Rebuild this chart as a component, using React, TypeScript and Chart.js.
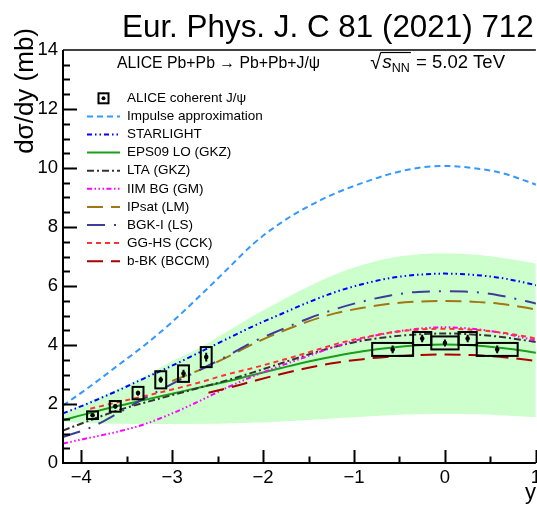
import React, { useEffect, useRef } from 'react';
import { Chart, registerables } from 'chart.js';

Chart.register(...registerables);

const W = 545;
const H = 505;
const FONT = '"Liberation Sans", Arial, Helvetica, sans-serif';

// Rapidity grid shared by most model curves
const rapidity = [-4.2, -3.9, -3.6, -3.3, -3.0, -2.7, -2.4, -2.1, -1.8, -1.5, -1.2, -0.9, -0.6, -0.3, 0, 0.3, 0.6, 0.9, 1.2];

const impulse = [1.95, 2.6, 3.3, 4.0, 4.78, 5.65, 6.55, 7.45, 8.15, 8.7, 9.15, 9.5, 9.8, 10.0, 10.07, 10.0, 9.85, 9.55, 9.2];
const starlight = [1.68, 2.05, 2.45, 2.88, 3.3, 3.75, 4.2, 4.65, 5.05, 5.45, 5.8, 6.07, 6.27, 6.38, 6.42, 6.38, 6.28, 6.1, 5.88];
const eps09 = [1.45, 1.7, 1.93, 2.14, 2.35, 2.56, 2.76, 2.99, 3.22, 3.44, 3.63, 3.79, 3.91, 3.99, 4.02, 3.99, 3.91, 3.79, 3.63];
const eps09High = [1.65, 2.1, 2.5, 2.95, 3.45, 3.9, 4.45, 5.0, 5.5, 5.98, 6.4, 6.72, 6.95, 7.07, 7.1, 7.07, 6.97, 6.82, 6.6];
const eps09Low = [1.4, 1.35, 1.33, 1.32, 1.32, 1.33, 1.34, 1.37, 1.41, 1.46, 1.52, 1.57, 1.62, 1.65, 1.66, 1.65, 1.62, 1.57, 1.53];
const lta = [1.1, 1.45, 1.78, 2.05, 2.3, 2.55, 2.8, 3.08, 3.38, 3.68, 3.95, 4.15, 4.28, 4.36, 4.39, 4.36, 4.28, 4.15, 4.0];
const iimBG = [0.66, 0.86, 1.06, 1.32, 1.68, 2.1, 2.55, 2.95, 3.3, 3.63, 3.95, 4.22, 4.42, 4.55, 4.6, 4.55, 4.42, 4.22, 4.0];
const bgkI = [0.88, 1.2, 1.68, 2.2, 2.68, 3.15, 3.62, 4.12, 4.52, 4.9, 5.22, 5.48, 5.68, 5.8, 5.82, 5.8, 5.68, 5.48, 5.25];

const ipsatY = [-3.0, -2.7, -2.4, -2.1, -1.8, -1.5, -1.2, -0.9, -0.6, -0.3, 0, 0.3, 0.6, 0.9, 1.2];
const ipsat = [2.78, 3.15, 3.58, 4.05, 4.45, 4.8, 5.08, 5.26, 5.4, 5.47, 5.49, 5.47, 5.4, 5.26, 5.08];

const gghsY = [-3.9, -3.6, -3.3, -3.0, -2.7, -2.4, -2.1, -1.8, -1.5, -1.2, -0.9, -0.6, -0.3, 0, 0.3, 0.6, 0.9, 1.2];
const gghs = [1.84, 2.06, 2.27, 2.49, 2.73, 3.0, 3.23, 3.48, 3.75, 4.03, 4.25, 4.42, 4.52, 4.55, 4.52, 4.43, 4.28, 4.08];

const bbkY = [-2.6, -2.4, -2.1, -1.8, -1.5, -1.2, -0.9, -0.6, -0.3, 0, 0.3, 0.6, 0.9, 1.2];
const bbk = [2.38, 2.53, 2.78, 3.02, 3.23, 3.4, 3.52, 3.61, 3.66, 3.68, 3.66, 3.6, 3.5, 3.36];

// ALICE coherent J/psi, forward rapidity
const forwardY = [-3.875, -3.625, -3.375, -3.125, -2.875, -2.625];
const forwardXsec = [1.62, 1.92, 2.37, 2.82, 3.03, 3.59];
const forwardStat = [0.06, 0.07, 0.08, 0.1, 0.13, 0.15];
const forwardSyst = [0.13, 0.18, 0.21, 0.29, 0.28, 0.34];
const forwardHalfWidth = 0.06;

// ALICE coherent J/psi, central rapidity bins
const centralLo = [-0.8, -0.35, -0.15, 0.15, 0.35];
const centralHi = [-0.35, -0.15, 0.15, 0.35, 0.8];
const centralXsec = [3.85, 4.22, 4.07, 4.22, 3.85];
const centralStat = [0.13, 0.13, 0.12, 0.13, 0.13];
const centralSyst = [0.22, 0.22, 0.22, 0.22, 0.22];

const xTicks = [-4, -3, -2, -1, 0, 1];
const yTicks = [0, 2, 4, 6, 8, 10, 12, 14];

type Model = { label: string; x: number[]; y: number[]; color: string; dash: number[] };

const models: Model[] = [
  { label: 'Impulse approximation', x: rapidity, y: impulse, color: '#3399ff', dash: [6, 4] },
  { label: 'STARLIGHT', x: rapidity, y: starlight, color: '#0000ff', dash: [5, 3, 1.5, 3, 1.5, 3] },
  { label: 'EPS09 LO (GKZ)', x: rapidity, y: eps09, color: '#1b9e1b', dash: [] },
  { label: 'LTA (GKZ)', x: rapidity, y: lta, color: '#333333', dash: [7, 3, 2, 3] },
  { label: 'IIM BG (GM)', x: rapidity, y: iimBG, color: '#ff00ff', dash: [5, 2.5, 1.5, 2.5, 1.5, 2.5, 1.5, 2.5] },
  { label: 'IPsat (LM)', x: ipsatY, y: ipsat, color: '#a37514', dash: [16, 8] },
  { label: 'BGK-I (LS)', x: rapidity, y: bgkI, color: '#3d3d99', dash: [18, 9, 2, 9] },
  { label: 'GG-HS (CCK)', x: gghsY, y: gghs, color: '#ff3333', dash: [5, 4] },
  { label: 'b-BK (BCCM)', x: bbkY, y: bbk, color: '#aa0000', dash: [16, 8] },
];

const pts = (xs: number[], ys: number[]) => xs.map((x, i) => ({ x, y: ys[i] }));
const fmtTick = (v: number) => (v < 0 ? '\u2212' + Math.abs(v) : String(v));

const decorations = {
  id: 'decorations',
  afterDatasetsDraw(chart: any) {
    const { ctx, chartArea: a, scales } = chart;
    const xs = scales.x;
    const ys = scales.y;
    ctx.save();
    ctx.beginPath();
    ctx.rect(a.left, a.top, a.right - a.left, a.bottom - a.top);
    ctx.clip();
    ctx.strokeStyle = '#000';
    ctx.fillStyle = '#000';
    ctx.lineWidth = 2;
    ctx.setLineDash([]);
    const drawPoint = (x: number, lo: number, hi: number, v: number, stat: number, syst: number) => {
      const x0 = xs.getPixelForValue(lo);
      const x1 = xs.getPixelForValue(hi);
      const yT = ys.getPixelForValue(v + syst);
      const yB = ys.getPixelForValue(v - syst);
      ctx.strokeRect(x0, yT, x1 - x0, yB - yT);
      const cx = xs.getPixelForValue(x);
      const cy = ys.getPixelForValue(v);
      ctx.beginPath();
      ctx.moveTo(cx, ys.getPixelForValue(v + stat));
      ctx.lineTo(cx, ys.getPixelForValue(v - stat));
      ctx.stroke();
      ctx.beginPath();
      ctx.arc(cx, cy, 2.3, 0, Math.PI * 2);
      ctx.fill();
    };
    forwardY.forEach((x, i) =>
      drawPoint(x, x - forwardHalfWidth, x + forwardHalfWidth, forwardXsec[i], forwardStat[i], forwardSyst[i])
    );
    centralLo.forEach((lo, i) =>
      drawPoint((lo + centralHi[i]) / 2, lo, centralHi[i], centralXsec[i], centralStat[i], centralSyst[i])
    );
    ctx.restore();

    // frame and inward ticks
    ctx.save();
    ctx.strokeStyle = '#000';
    ctx.lineWidth = 2;
    ctx.beginPath();
    ctx.moveTo(a.left, a.top);
    ctx.lineTo(a.left, a.bottom);
    ctx.lineTo(a.right, a.bottom);
    ctx.stroke();
    ctx.lineWidth = 1.5;
    ctx.beginPath();
    ctx.moveTo(a.left, a.top);
    ctx.lineTo(a.right, a.top);
    ctx.stroke();
    ctx.lineWidth = 2;
    ctx.beginPath();
    for (let v = 0.5; v < 14; v += 0.5) {
      const len = v % 2 === 0 ? 14 : 7;
      const py = Math.round(ys.getPixelForValue(v)) + 0.5;
      ctx.moveTo(a.left, py);
      ctx.lineTo(a.left + len, py);
    }
    for (let x = -4; x <= 1.001; x += 0.5) {
      const len = Math.abs(x - Math.round(x)) < 1e-6 ? 13 : 6.5;
      const px = Math.round(xs.getPixelForValue(x)) + 0.5;
      ctx.moveTo(px, a.bottom);
      ctx.lineTo(px, a.bottom - len);
    }
    ctx.stroke();
    ctx.restore();
  },
  afterDraw(chart: any) {
    const { ctx } = chart;
    ctx.save();
    ctx.fillStyle = '#000';
    ctx.strokeStyle = '#000';
    ctx.textAlign = 'left';
    ctx.textBaseline = 'alphabetic';

    // journal reference
    ctx.font = `31.4px ${FONT}`;
    ctx.fillText('Eur. Phys. J. C 81 (2021) 712', 122, 37);

    // process
    ctx.font = `15.8px ${FONT}`;
    ctx.fillText('ALICE Pb+Pb \u2192 Pb+Pb+J/\u03c8', 117, 68);

    // collision energy, right-aligned at x = 505
    const rootFont = `20px ${FONT}`;
    const sFont = `italic 19px ${FONT}`;
    const nnFont = `12.5px ${FONT}`;
    const eFont = `18.5px ${FONT}`;
    const energy = ' = 5.02 TeV';
    ctx.font = rootFont;
    const wRoot = ctx.measureText('\u221a').width;
    ctx.font = sFont;
    const wS = ctx.measureText('s').width;
    ctx.font = nnFont;
    const wNN = ctx.measureText('NN').width;
    ctx.font = eFont;
    const wE = ctx.measureText(energy).width;
    let x = 505 - (wRoot + wS + 1 + wNN + 1 + wE);
    ctx.font = rootFont;
    ctx.fillText('\u221a', x, 69);
    x += wRoot;
    const barStart = x - 1;
    ctx.font = sFont;
    ctx.fillText('s', x + 1, 68);
    x += wS + 1;
    ctx.font = nnFont;
    ctx.fillText('NN', x, 72);
    x += wNN + 1;
    ctx.lineWidth = 1.2;
    ctx.beginPath();
    ctx.moveTo(barStart, 52.5);
    ctx.lineTo(x, 52.5);
    ctx.stroke();
    ctx.font = eFont;
    ctx.fillText(energy, x, 68);

    // legend
    const rowTop = 98.3;
    const rowStep = 18.1;
    ctx.font = `13.5px ${FONT}`;
    ctx.textBaseline = 'middle';
    ctx.fillText('ALICE coherent J/\u03c8', 127, rowTop);
    ctx.lineWidth = 2;
    ctx.strokeRect(98.5, rowTop - 5, 10, 10);
    ctx.beginPath();
    ctx.arc(103.5, rowTop, 2, 0, Math.PI * 2);
    ctx.fill();
    models.forEach((m, i) => {
      const yy = rowTop + rowStep * (i + 1);
      ctx.strokeStyle = m.color;
      ctx.lineWidth = 2;
      ctx.setLineDash(m.dash);
      ctx.beginPath();
      ctx.moveTo(87, yy);
      ctx.lineTo(120, yy);
      ctx.stroke();
      ctx.setLineDash([]);
      ctx.fillText(m.label, 127, yy);
    });

    // axis titles
    ctx.font = `22px ${FONT}`;
    ctx.textBaseline = 'alphabetic';
    ctx.textAlign = 'right';
    ctx.fillText('y', 536, 499);
    ctx.font = `26px ${FONT}`;
    ctx.translate(33, 28);
    ctx.rotate(-Math.PI / 2);
    ctx.textAlign = 'right';
    ctx.fillText('d\u03c3/dy (mb)', 0, 0);
    ctx.restore();
  },
};

export default function App() {
  const canvasRef = useRef<HTMLCanvasElement | null>(null);

  useEffect(() => {
    const canvas = canvasRef.current;
    if (!canvas) return;
    const datasets: any[] = [
      {
        label: 'band-low',
        data: pts(rapidity, eps09Low),
        borderWidth: 0,
        borderColor: 'rgba(0,0,0,0)',
        pointRadius: 0,
        tension: 0.4,
        fill: false,
        order: 20,
      },
      {
        label: 'band-high',
        data: pts(rapidity, eps09High),
        borderWidth: 0,
        borderColor: 'rgba(0,0,0,0)',
        backgroundColor: '#ccffcc',
        pointRadius: 0,
        tension: 0.4,
        fill: 0,
        order: 19,
      },
      ...models.map((m, i) => ({
        label: m.label,
        data: pts(m.x, m.y),
        borderColor: m.color,
        borderWidth: 2,
        borderDash: m.dash,
        pointRadius: 0,
        cubicInterpolationMode: 'monotone',
        fill: false,
        order: 10 - i,
      })),
    ];

    const chart = new Chart(canvas, {
      type: 'line',
      data: { datasets },
      options: {
        responsive: false,
        animation: false,
        devicePixelRatio: 1,
        layout: { padding: { top: 50, right: W - 537.4, left: 0, bottom: 0 } },
        plugins: {
          legend: { display: false },
          tooltip: { enabled: false },
          filler: { drawTime: 'beforeDatasetsDraw' },
        },
        scales: {
          x: {
            type: 'linear',
            min: -4.2,
            max: 1.0,
            afterBuildTicks: (s: any) => {
              s.ticks = xTicks.map((v) => ({ value: v }));
            },
            afterFit: (s: any) => {
              s.height = H - 463;
            },
            grid: { display: false, drawTicks: false },
            border: { display: false },
            ticks: {
              color: '#000',
              font: { family: FONT, size: 18.5 },
              padding: 4,
              maxRotation: 0,
              autoSkip: false,
              callback: (v: any) => fmtTick(Number(v)),
            },
          },
          y: {
            type: 'linear',
            min: 0,
            max: 14,
            afterBuildTicks: (s: any) => {
              s.ticks = yTicks.map((v) => ({ value: v }));
            },
            afterFit: (s: any) => {
              s.width = 63;
            },
            grid: { display: false, drawTicks: false },
            border: { display: false },
            ticks: {
              color: '#000',
              font: { family: FONT, size: 18.5 },
              padding: 5,
              autoSkip: false,
              callback: (v: any) => fmtTick(Number(v)),
            },
          },
        },
      },
      plugins: [decorations],
    });
    return () => chart.destroy();
  }, []);

  return (
    <div
      style={{
        position: 'fixed',
        left: 0,
        top: 0,
        width: 537,
        height: H,
        overflow: 'hidden',
        background: '#fff',
      }}
    >
      <canvas ref={canvasRef} width={W} height={H} style={{ display: 'block', width: W, height: H }} />
    </div>
  );
}
